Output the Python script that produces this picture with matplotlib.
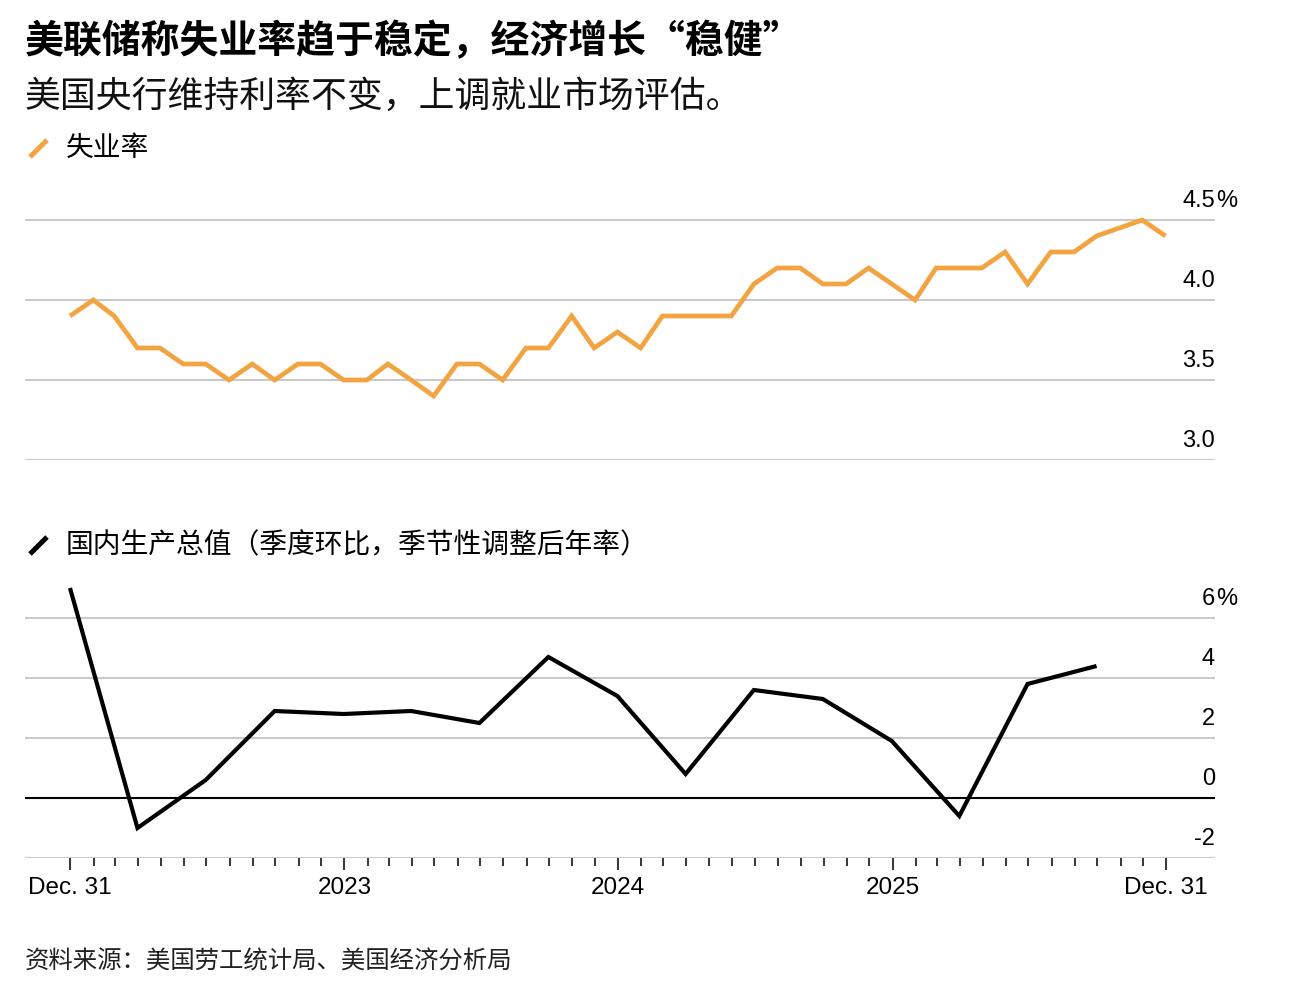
import matplotlib
matplotlib.use("Agg")
import matplotlib.pyplot as plt
import matplotlib.dates as mdates
import pandas as pd

# ---------------- data ----------------
# Monthly unemployment rate (%), month-end dates; Oct 2025 not published
unemp_months = (list(pd.date_range("2021-12-31", "2025-09-30", freq="ME"))
                + [pd.Timestamp("2025-11-30"), pd.Timestamp("2025-12-31")])
unemp_values = [3.9,
                4.0, 3.9, 3.7, 3.7, 3.6, 3.6, 3.5, 3.6, 3.5, 3.6, 3.6, 3.5,
                3.5, 3.6, 3.5, 3.4, 3.6, 3.6, 3.5, 3.7, 3.7, 3.9, 3.7, 3.8,
                3.7, 3.9, 3.9, 3.9, 3.9, 4.1, 4.2, 4.2, 4.1, 4.1, 4.2, 4.1,
                4.0, 4.2, 4.2, 4.2, 4.3, 4.1, 4.3, 4.3, 4.4,
                4.5, 4.4]

# Quarterly GDP, q/q SAAR (%), quarter-end dates
gdp_quarters = list(pd.date_range("2021-12-31", "2025-09-30", freq="QE"))
gdp_values = [7.0, -1.0, 0.6, 2.9, 2.8, 2.9, 2.5, 4.7, 3.4, 0.8, 3.6, 3.3,
              1.9, -0.6, 3.8, 4.4]

unemp_ticks = [3.0, 3.5, 4.0, 4.5]
unemp_labels = ["3.0", "3.5", "4.0", "4.5"]
gdp_ticks = [-2, 0, 2, 4, 6]
gdp_labels = ["-2", "0", "2", "4", "6"]

x_major = [pd.Timestamp("2021-12-31"), pd.Timestamp("2023-01-01"),
           pd.Timestamp("2024-01-01"), pd.Timestamp("2025-01-01"),
           pd.Timestamp("2025-12-31")]
x_major_labels = ["Dec. 31", "2023", "2024", "2025", "Dec. 31"]

title = "美联储称失业率趋于稳定，经济增长“稳健”"
subtitle = "美国央行维持利率不变，上调就业市场评估。"
legend1 = "失业率"
legend2 = "国内生产总值（季度环比，季节性调整后年率）"
source = "资料来源：美国劳工统计局、美国经济分析局"

# ---------------- style ----------------
ORANGE = "#F2A443"
GRID = "#C9C9C9"
CJK = ["Noto Sans CJK SC", "DejaVu Sans"]
NUM = ["Liberation Sans", "DejaVu Sans"]

W, H = 1302, 1002
fig = plt.figure(figsize=(W / 100, H / 100), dpi=100)


def fx(px):
    return px / W


def fy(py):
    return 1 - py / H


xmin = mdates.date2num(pd.Timestamp("2021-11-01"))
xmax = mdates.date2num(pd.Timestamp("2026-03-07"))

ax_left, ax_right = 25, 1215
ax1 = fig.add_axes([fx(ax_left), fy(460), fx(ax_right - ax_left), (460 - 188) / H])
ax2 = fig.add_axes([fx(ax_left), fy(858), fx(ax_right - ax_left), (858 - 579) / H])

for ax in (ax1, ax2):
    ax.set_xlim(xmin, xmax)
    for s in ax.spines.values():
        s.set_visible(False)
    ax.set_yticks([])
    ax.patch.set_alpha(0)

ax1.set_ylim(3.0, 4.7)
ax2.set_ylim(-2, 7.3)
ax1.set_xticks([])

YFS = 17


def ylabels(ax, ticks, labels, zero_black=False):
    for i, (v, lab) in enumerate(zip(ticks, labels)):
        col = "black" if (zero_black and v == 0) else GRID
        ax.axhline(v, color=col, lw=1.5, zorder=1)
        ax.annotate(lab, xy=(1.0, v), xycoords=("axes fraction", "data"),
                    xytext=(0, 9.5), textcoords="offset points",
                    ha="right", va="baseline", fontsize=YFS, family=NUM,
                    color="black", annotation_clip=False)
        if i == len(ticks) - 1:
            ax.annotate("%", xy=(1.0, v), xycoords=("axes fraction", "data"),
                        xytext=(0.5, 9.5), textcoords="offset points",
                        ha="left", va="baseline", fontsize=YFS, family=NUM,
                        color="black", annotation_clip=False)


ylabels(ax1, unemp_ticks, unemp_labels)
ylabels(ax2, gdp_ticks, gdp_labels, zero_black=True)

ax1.plot(mdates.date2num(unemp_months), unemp_values, color=ORANGE, lw=3.4,
         solid_joinstyle="miter", solid_capstyle="butt", zorder=3, clip_on=False)
ax2.plot(mdates.date2num(gdp_quarters), gdp_values, color="black", lw=3.0,
         solid_joinstyle="miter", solid_capstyle="butt", zorder=3, clip_on=False)

# x ticks
major_nums = mdates.date2num(x_major)
minor_dates = [d for d in pd.date_range("2022-02-01", "2025-12-01", freq="MS")
               if not (d.month == 1)]
ax2.set_xticks(major_nums)
ax2.set_xticklabels(x_major_labels, fontsize=17.5, family=NUM)
ax2.set_xticks(mdates.date2num(minor_dates), minor=True)
ax2.tick_params(axis="x", which="major", direction="out", length=8.4,
                width=1.1, color="black", pad=5)
ax2.tick_params(axis="x", which="minor", direction="out", length=5.5,
                width=1.1, color="black")
ax2.tick_params(axis="y", which="both", length=0)

# ---------------- text ----------------
fig.text(fx(25), fy(42), title, fontsize=28, fontweight="bold", family=CJK,
         ha="left", va="center", color="black")
fig.text(fx(25), fy(97), subtitle, fontsize=25.8, family=CJK,
         ha="left", va="center", color="#111111")

# legend icons
fig.add_artist(plt.Line2D([fx(30), fx(47)], [fy(157), fy(140)], color=ORANGE,
                          lw=3.6, solid_capstyle="butt"))
fig.text(fx(66), fy(148), legend1, fontsize=20, family=CJK,
         ha="left", va="center", color="black")
fig.add_artist(plt.Line2D([fx(30), fx(47)], [fy(554), fy(537)], color="black",
                          lw=3.6, solid_capstyle="butt"))
fig.text(fx(66), fy(545), legend2, fontsize=20, family=CJK,
         ha="left", va="center", color="black")

fig.text(fx(25), fy(962), source, fontsize=17.6, family=CJK,
         ha="left", va="center", color="#222222")

fig.savefig("out.png", dpi=100)
